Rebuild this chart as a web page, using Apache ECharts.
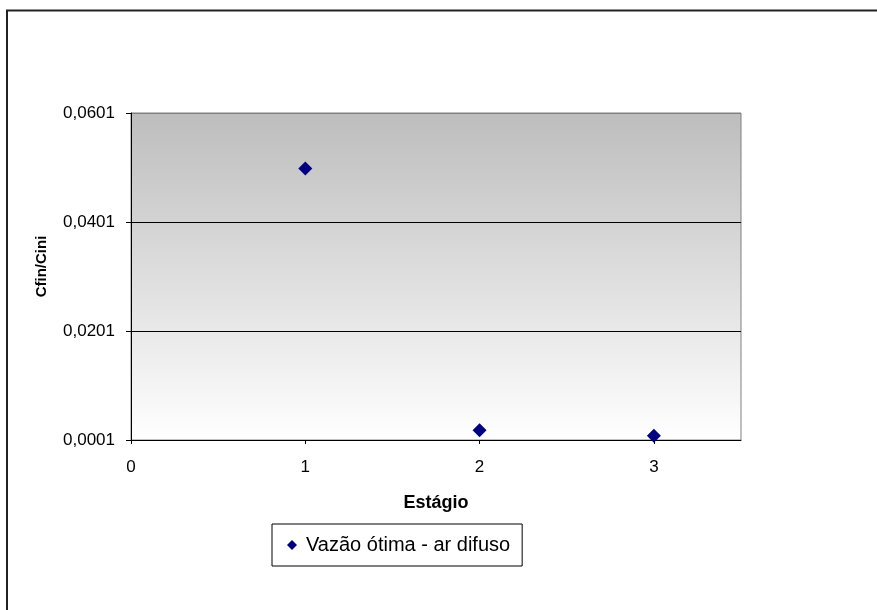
<!DOCTYPE html>
<html>
<head>
<meta charset="utf-8">
<script src="https://cdn.jsdelivr.net/npm/echarts@6/dist/echarts.min.js"></script>
<style>
  html, body { margin: 0; padding: 0; background: #fff; }
  #chart { width: 877px; height: 610px; }
</style>
</head>
<body>
<div id="chart"></div>
<script>
// Stage number and concentration ratio Cfin/Cini
const estagios = [1, 2, 3];
const cfinCini = [0.0499, 0.0019, 0.0009];
const xTicks = [0, 1, 2, 3];
const seriesName = 'Vazão ótima - ar difuso';
const xAxisTitle = 'Estágio';
const yAxisTitle = 'Cfin/Cini';

const points = estagios.map((e, i) => [e, cfinCini[i]]);
const font = 'Liberation Sans, Arial, sans-serif';

const chart = echarts.init(document.getElementById('chart'), null, { renderer: 'canvas' });
chart.setOption({
  animation: false,
  backgroundColor: '#fff',
  graphic: [{
    type: 'rect',
    shape: { x: 7, y: 10.5, width: 900, height: 700 },
    style: { fill: 'none', stroke: '#222', lineWidth: 2 },
    silent: true, z: 0
  }],
  grid: {
    left: 131, top: 113, right: 136, bottom: 170,
    show: true,
    borderColor: '#808080',
    borderWidth: 1,
    backgroundColor: {
      type: 'linear', x: 0, y: 0, x2: 0, y2: 1,
      colorStops: [
        { offset: 0, color: '#bdbdbd' },
        { offset: 1, color: '#ffffff' }
      ]
    }
  },
  legend: {
    left: 272, top: 524,
    padding: [11, 12, 11, 15],
    borderColor: '#000', borderWidth: 1,
    backgroundColor: '#fff',
    itemWidth: 10, itemHeight: 10,
    itemStyle: { opacity: 1 },
    textStyle: { fontFamily: font, fontSize: 20, color: '#000', padding: [0, 0, 0, 4] },
    data: [{ name: seriesName, icon: 'diamond' }]
  },
  xAxis: {
    type: 'value',
    min: 0, max: 3.5, interval: 1,
    name: xAxisTitle,
    nameLocation: 'middle',
    nameGap: 54,
    nameTextStyle: { fontFamily: font, fontSize: 18, fontWeight: 'bold', color: '#000' },
    axisLine: { onZero: false, lineStyle: { color: '#000', width: 1 } },
    axisTick: { show: true, length: 4, customValues: xTicks, lineStyle: { color: '#000' } },
    axisLabel: {
      margin: 19,
      customValues: xTicks,
      fontFamily: font, fontSize: 17, color: '#000',
      formatter: v => String(v)
    },
    splitLine: { show: false }
  },
  yAxis: {
    type: 'value',
    min: 0.0001, max: 0.0601, interval: 0.02,
    name: yAxisTitle,
    nameLocation: 'middle',
    nameGap: 82,
    nameTextStyle: {
      fontFamily: font, fontSize: 15, fontWeight: 'bold', color: '#000',
      padding: [0, 0, 0, 20]
    },
    axisLine: { show: true, lineStyle: { color: '#000', width: 1 } },
    axisTick: { show: true, length: 5, lineStyle: { color: '#000' } },
    axisLabel: {
      margin: 16,
      fontFamily: font, fontSize: 17, color: '#000',
      formatter: v => v.toFixed(4).replace('.', ',')
    },
    splitLine: { show: true, lineStyle: { color: ['#000', '#000', '#000', '#808080'], width: 1 } }
  },
  series: [{
    name: seriesName,
    type: 'scatter',
    symbol: 'diamond',
    symbolSize: 14,
    itemStyle: { color: '#000080', opacity: 1 },
    data: points
  }]
});
</script>
</body>
</html>
